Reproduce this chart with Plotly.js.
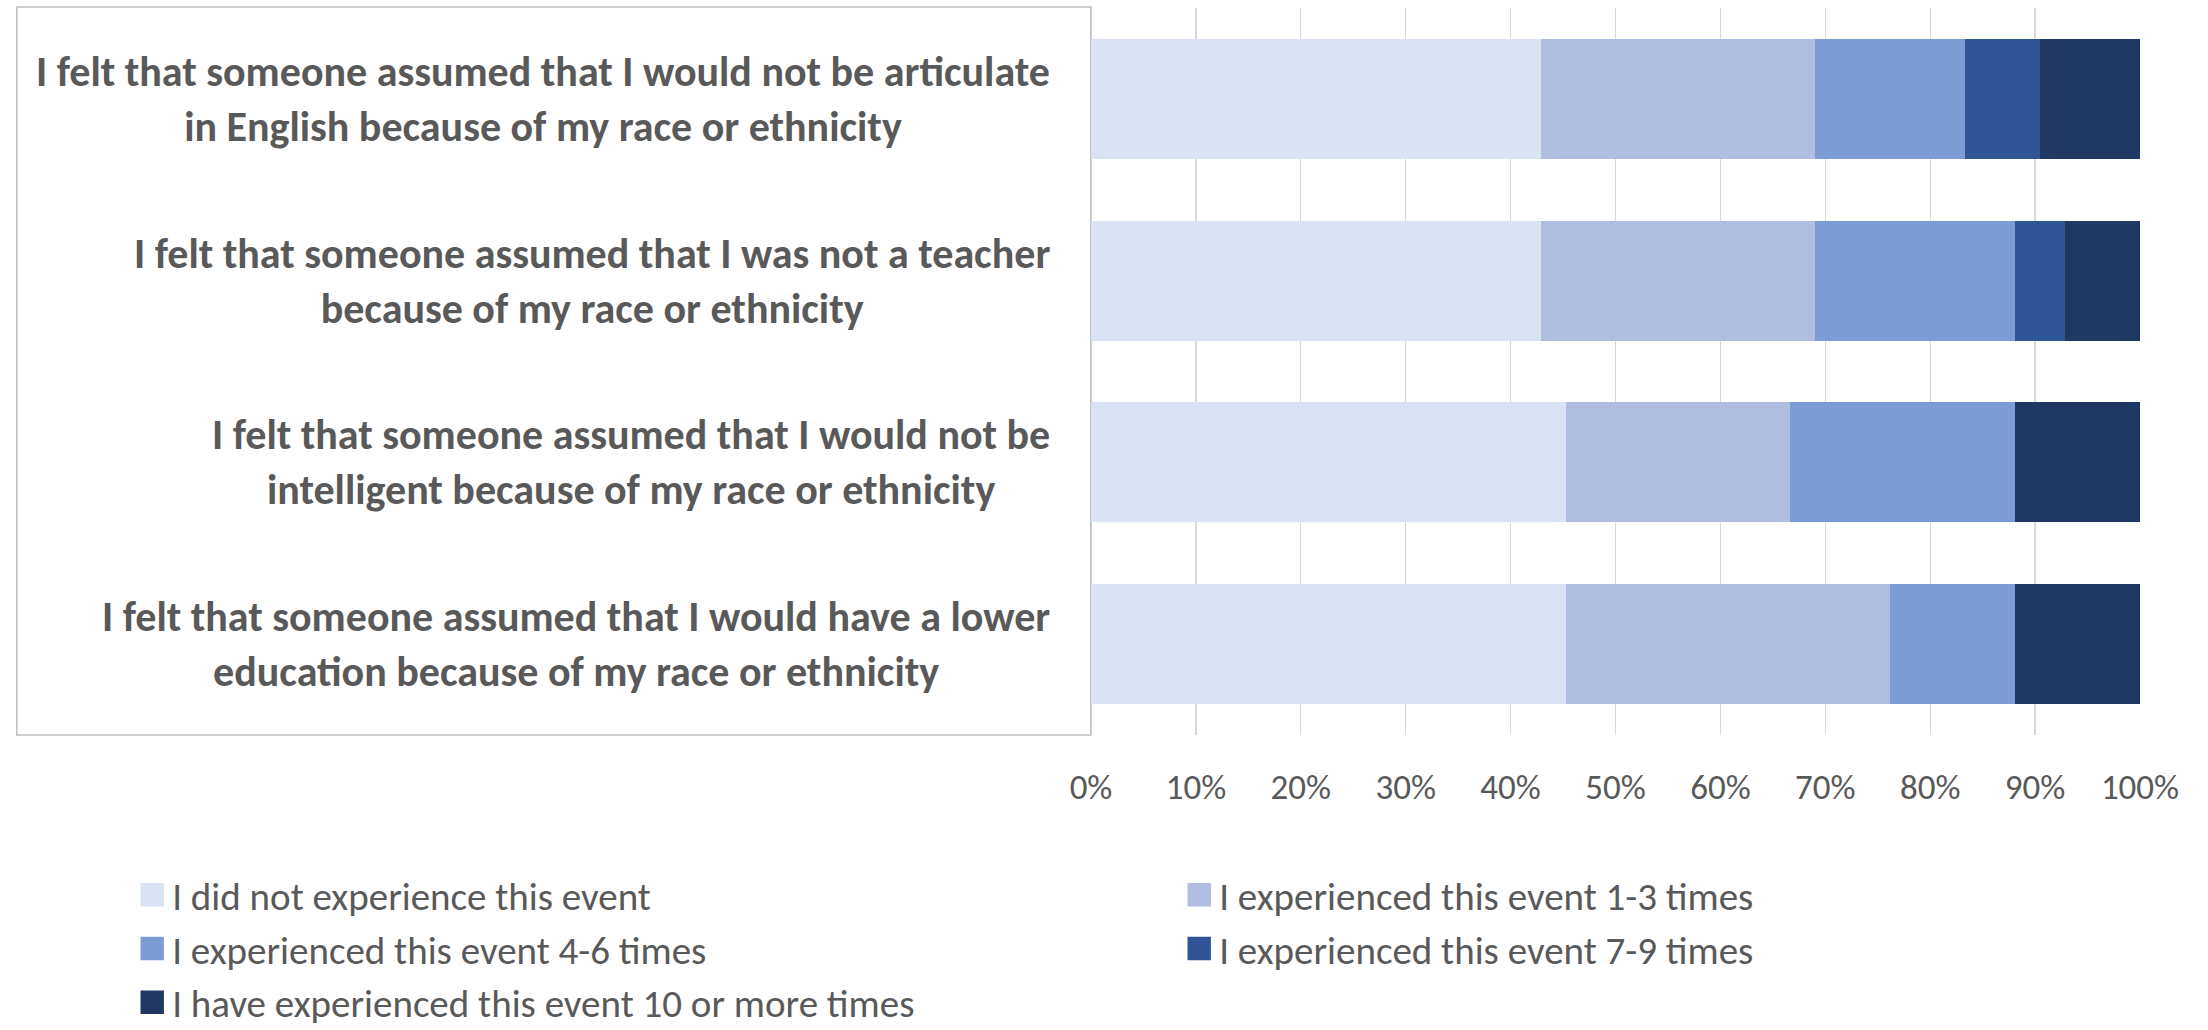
<!DOCTYPE html>
<html>
<head>
<meta charset="utf-8">
<script src="https://cdn.plot.ly/plotly-3.0.1.min.js"></script>
<style>html,body{margin:0;padding:0;background:#fff;}#chart{width:2208px;height:1030px;}</style>
</head>
<body>
<div id="chart"></div>
<script>
var categories = [
  "I felt that someone assumed that I would not be articulate<br>in English because of my race or ethnicity",
  "I felt that someone assumed that I was not a teacher<br>because of my race or ethnicity",
  "I felt that someone assumed that I would not be<br>intelligent because of my race or ethnicity",
  "I felt that someone assumed that I would have a lower<br>education because of my race or ethnicity"
];
var seriesNames = [
  "I did not experience this event",
  "I experienced this event 1-3 times",
  "I experienced this event 4-6 times",
  "I experienced this event 7-9 times",
  "I have experienced this event 10 or more times"
];
var notExperienced = [42.86, 42.86, 45.24, 45.24];
var times1to3 = [26.19, 26.19, 21.43, 30.95];
var times4to6 = [14.29, 19.05, 21.43, 11.90];
var times7to9 = [7.14, 4.76, 0, 0];
var times10plus = [9.52, 7.14, 11.90, 11.90];
var tickValues = [0, 10, 20, 30, 40, 50, 60, 70, 80, 90, 100];
var tickLabels = ["0%", "10%", "20%", "30%", "40%", "50%", "60%", "70%", "80%", "90%", "100%"];

var colors = ["#DAE3F3", "#B0BDE0", "#7B9CD5", "#2F5597", "#203864"];
var FONT = "Carlito, Lato, 'Liberation Sans', sans-serif";
var seriesValues = [notExperienced, times1to3, times4to6, times7to9, times10plus];

var traces = seriesValues.map(function (vals, i) {
  return {
    type: "bar",
    orientation: "h",
    name: seriesNames[i],
    x: vals,
    y: categories,
    marker: { color: colors[i], line: { width: 0 } },
    hoverinfo: "x+name"
  };
});

var annotations = categories.map(function (c) {
  return {
    text: c, xref: "paper", yref: "y", x: -0.037, y: c,
    xanchor: "right", yanchor: "middle", align: "center", showarrow: false,
    font: { family: FONT, size: 42, color: "#595959", weight: "bold" }
  };
});

var layout = {
  width: 2208, height: 1030,
  margin: { l: 1091, r: 68, t: 8, b: 295, autoexpand: false },
  paper_bgcolor: "#ffffff", plot_bgcolor: "#ffffff",
  barmode: "stack",
  bargap: 0.34,
  font: { family: FONT, color: "#595959", size: 35 },
  xaxis: {
    range: [0, 100], tickmode: "array", tickvals: tickValues, ticktext: tickLabels,
    showgrid: true, gridcolor: "#d9d9d9", gridwidth: 1.3,
    zeroline: false, showline: false, ticks: "",
    ticklabelstandoff: 28,
    tickfont: { family: FONT, size: 35, color: "#595959" },
    fixedrange: true
  },
  yaxis: {
    autorange: "reversed", showticklabels: false, showgrid: false,
    showline: true, linecolor: "#bfbfbf", linewidth: 1.5, zeroline: false,
    fixedrange: true
  },
  shapes: [{
    type: "rect", xref: "paper", yref: "paper",
    x0: -1.024, x1: 0, y0: 0, y1: 1.0015,
    line: { color: "#bfbfbf", width: 1.5 }, fillcolor: "rgba(0,0,0,0)", layer: "below"
  }],
  annotations: annotations,
  showlegend: true,
  legend: {
    orientation: "h", x: -0.914, y: -0.176, xanchor: "left", yanchor: "top",
    traceorder: "normal", entrywidth: 1002, entrywidthmode: "pixels",
    font: { family: FONT, size: 39, color: "#595959" },
    bgcolor: "rgba(0,0,0,0)"
  }
};

function enlargeLegendSymbols() {
  document.querySelectorAll("#chart .legend .legendpoints path").forEach(function (p) {
    var t = p.getAttribute("transform") || "";
    if (t.indexOf("scale(") === -1) {
      p.setAttribute("transform", t + " scale(1.95)");
    }
  });
}

var gd = document.getElementById("chart");
Plotly.newPlot(gd, traces, layout, { displayModeBar: false, staticPlot: true }).then(function () {
  enlargeLegendSymbols();
  gd.on("plotly_afterplot", enlargeLegendSymbols);
  setTimeout(enlargeLegendSymbols, 50);
});
</script>
</body>
</html>
